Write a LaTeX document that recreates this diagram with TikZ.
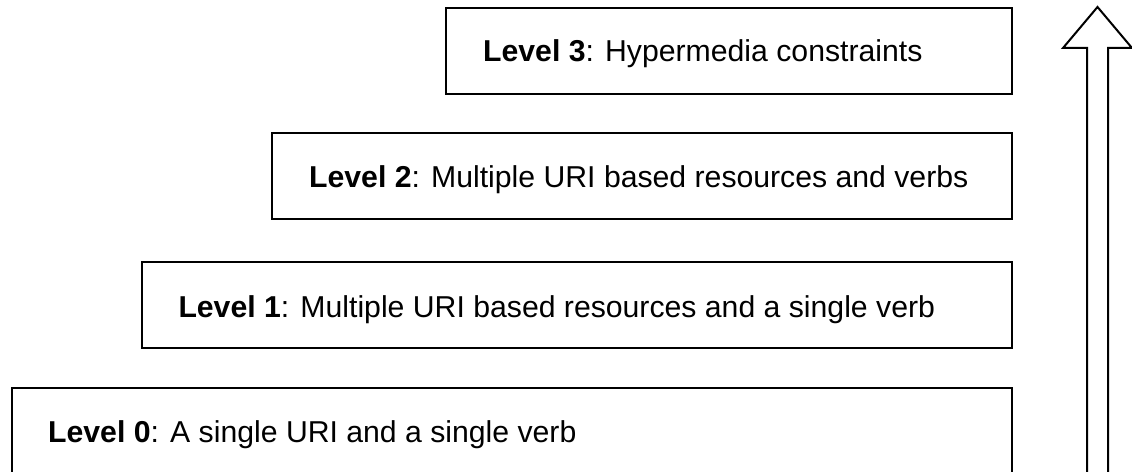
\documentclass[tikz,border=0pt]{standalone}
\usepackage{fontspec}
\setmainfont{Liberation Sans}
\begin{document}
\begin{tikzpicture}[x=1bp,y=-1bp,
  levelbox/.style={draw=black, line width=2bp, anchor=north west, minimum height=86bp, inner sep=0pt},
  leveltext/.style={anchor=base west, inner sep=0pt, font=\fontsize{30.2bp}{35bp}\selectfont},
  upshape/.style={draw=black, line width=2bp, fill=white, line join=miter}]
\useasboundingbox (0,0) rectangle (1132,472);
\clip (0,0) rectangle (1132,472);
\node[levelbox, minimum width=566bp] (l3) at (445,6.7) {};
\node[levelbox, minimum width=740bp] (l2) at (271,131.7) {};
\node[levelbox, minimum width=870bp] (l1) at (140.7,260.7) {};
\node[levelbox, minimum width=1000.5bp, minimum height=100bp] (l0) at (10.5,387) {};
\node[leveltext] (t3) at (483,62) {\textbf{Level 3}: Hypermedia constraints};
\node[leveltext] (t2) at (309,188) {\textbf{Level 2}: Multiple URI based resources and verbs};
\node[leveltext] (t1) at (178.3,317.3) {\textbf{Level 1}: Multiple URI based resources and a single verb};
\node[leveltext] (t0) at (48,443) {\textbf{Level 0}: A single URI and a single verb};
\coordinate (tip) at (1097.5,7);
\draw[upshape] (1087,490) -- (1087,48) -- (1063,48) -- (tip) -- (1132,48) -- (1108,48) -- (1108,490);
\end{tikzpicture}
\end{document}
